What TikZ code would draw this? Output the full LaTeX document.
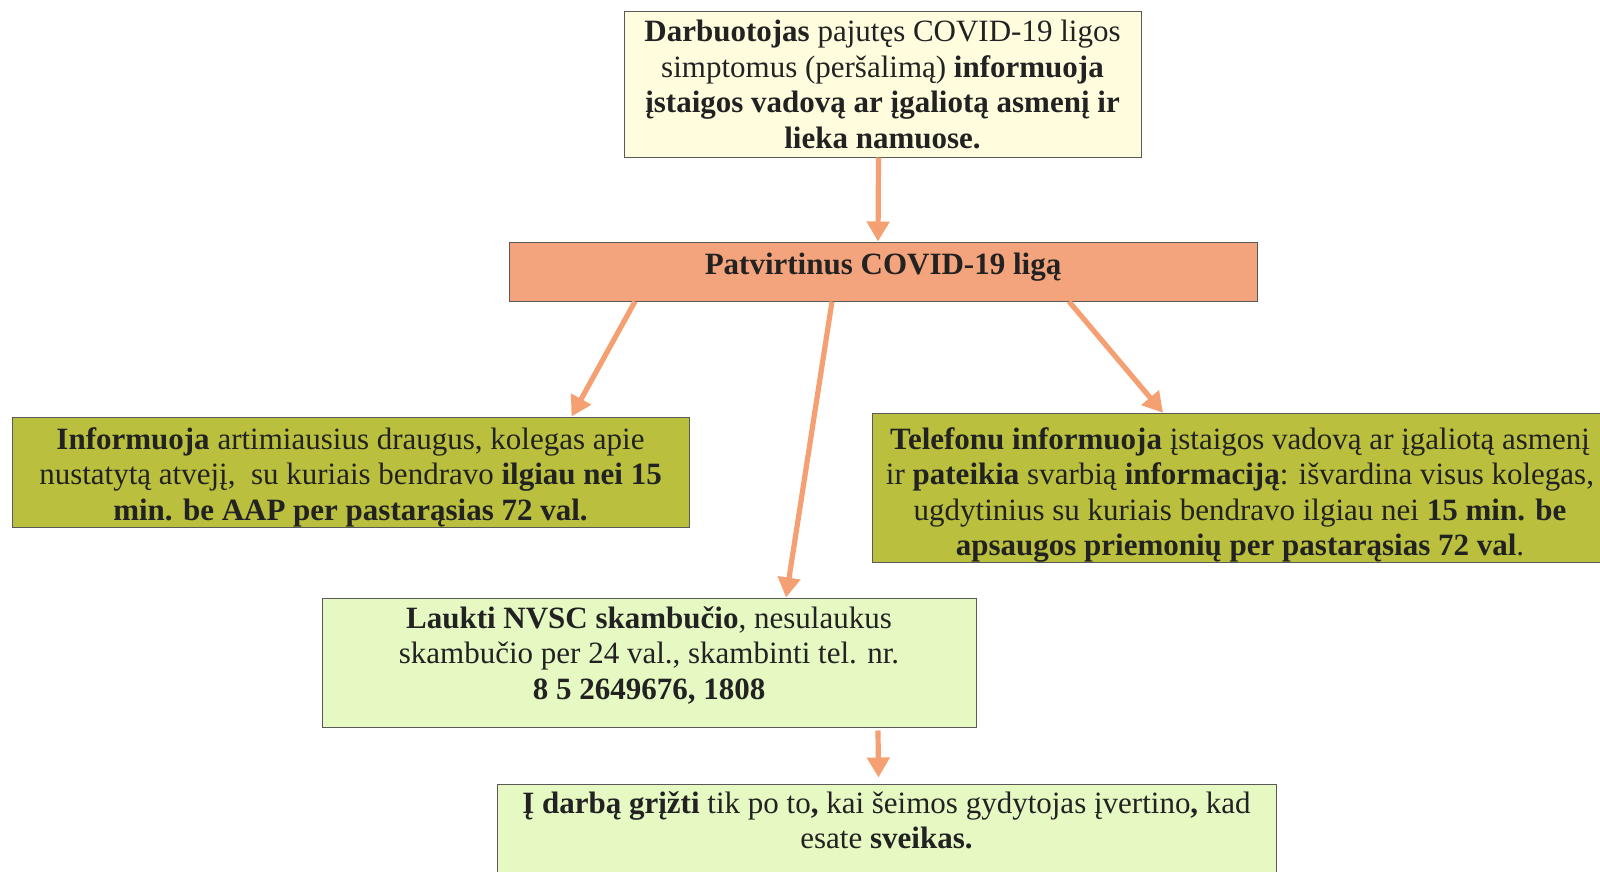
\documentclass[tikz,border=0pt]{standalone}
\usepackage{fontspec}
\setmainfont{Liberation Serif}
\usetikzlibrary{arrows.meta,calc}
\definecolor{cream}{HTML}{FFFDDE}
\definecolor{salmon}{HTML}{F4A47C}
\definecolor{olive}{HTML}{BAC03D}
\definecolor{lightgreen}{HTML}{E6F9C3}
\definecolor{arrowcol}{HTML}{F5A073}
\definecolor{ink}{HTML}{222222}
\begin{document}
\begin{tikzpicture}[x=0.5pt,y=-0.5pt,
        box/.style={draw=black!65,line width=0.5pt,align=center,inner sep=0pt,
            text=ink,font=\fontsize{15.5}{17.75}\selectfont},
        flow/.style={arrowcol,line width=2.6pt,-{Triangle[width=11pt,length=10pt]}}]
        \useasboundingbox (0,0) rectangle (1600,872);
        \clip (0,0) rectangle (1600,872);
        \node[box,fill=cream,minimum width=258.5pt,minimum height=72.5pt] (symptoms) at (882.5,84.5)
            {\textbf{Darbuotojas} pajutęs COVID-19 ligos\\ simptomus (peršalimą) \textbf{informuoja}\\ \textbf{įstaigos vadovą ar įgaliotą asmenį ir}\\ \textbf{lieka namuose.}};
        \node[box,fill=salmon,minimum width=374pt,minimum height=29.5pt] (confirmed) at (883,271.5)
            {\textbf{Patvirtinus COVID-19 ligą}\\[-9.75pt]\mbox{}};
        \node[box,fill=olive,minimum width=338.5pt,minimum height=55pt] (friends) at (350.5,472)
            {\rule{0pt}{16pt}\textbf{Informuoja} artimiausius draugus, kolegas apie\\ nustatytą atvejį,\ \ su kuriais bendravo \textbf{ilgiau nei 15}\\ \textbf{min. be AAP per pastarąsias 72 val.}};
        \node[box,fill=olive,minimum width=368pt,minimum height=73pt] (phone) at (1240,488)
            {\rule{0pt}{18pt}\textbf{Telefonu informuoja} įstaigos vadovą ar įgaliotą asmenį\\ ir \textbf{pateikia} svarbią \textbf{informaciją}: išvardina visus kolegas,\\ ugdytinius su kuriais bendravo ilgiau nei \textbf{15 min. be}\\ \textbf{apsaugos priemonių per pastarąsias 72 val}.};
        \node[box,fill=lightgreen,minimum width=327pt,minimum height=64.5pt] (nvsc) at (649,662.5)
            {\textbf{Laukti NVSC skambučio}, nesulaukus\\ skambučio per 24 val., skambinti tel. nr.\\ \textbf{8 5 2649676, 1808}\\[-8pt]\mbox{}};
        \node[box,fill=lightgreen,minimum width=389.5pt,minimum height=50pt] (work) at (886.5,834)
            {\textbf{Į darbą grįžti} tik po to\textbf{,} kai šeimos gydytojas įvertino\textbf{,} kad\\ esate \textbf{sveikas.}\\[-4pt]\mbox{}};
        \draw[flow] ($(symptoms.south)+(-4,0)$) -- ($(confirmed.north)+(-5,0)$);
        \draw[flow] ($(confirmed.south)+(-248,0)$) -- ($(friends.north)+(221,0)$);
        \draw[flow] ($(confirmed.south)+(-51,0)$) -- ($(nvsc.north)+(137,0)$);
        \draw[flow] ($(confirmed.south)+(186,0)$) -- ($(phone.north)+(-77,0)$);
        \draw[flow] ($(nvsc.south)+(229,3)$) -- ($(work.north)+(-8,-6)$);
\end{tikzpicture}
\end{document}
